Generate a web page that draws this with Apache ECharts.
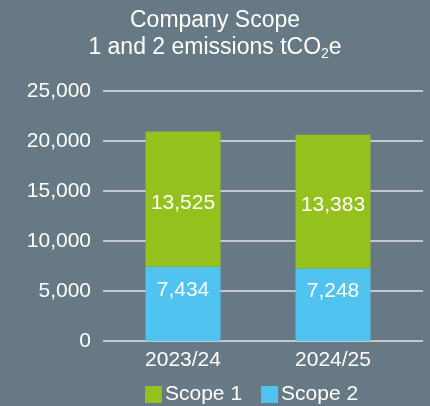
<!DOCTYPE html>
<html>
<head>
<meta charset="utf-8">
<script src="https://cdn.jsdelivr.net/npm/echarts@6/dist/echarts.min.js"></script>
<style>
  html, body { margin: 0; padding: 0; background: #667985; }
  #chart { width: 430px; height: 406px; }
</style>
</head>
<body>
<div id="chart"></div>
<script>
var years = ['2023/24', '2024/25'];
var scope1 = [13525, 13383];
var scope2 = [7434, 7248];
var yTicks = [0, 5000, 10000, 15000, 20000, 25000];

var font = '"Liberation Sans", Arial, sans-serif';
var myEcharts = echarts.init(document.getElementById('chart'));

function fmt(v) {
    return v.toLocaleString('en-US');
}

var option = {
    backgroundColor: '#667985',
    textStyle: { fontFamily: font },
    title: {
        text: 'Company Scope\n1 and 2 emissions tCO{sub|2}e',
        left: 'center',
        top: 2,
        textStyle: {
            color: '#fff', fontSize: 23, fontWeight: 'normal', lineHeight: 27, fontFamily: font,
            rich: {
                sub: { fontSize: 14, color: '#fff', fontFamily: font, verticalAlign: 'bottom', lineHeight: 14, padding: [13, 0, 0, 0] }
            }
        }
    },
    legend: {
        top: 384,
        left: 145,
        padding: 0,
        itemWidth: 17,
        itemHeight: 17,
        itemGap: 19,
        icon: 'rect',
        textStyle: { color: '#fff', fontSize: 21, fontFamily: font, padding: [0, 0, 0, -2] },
        data: ['Scope 1', 'Scope 2']
    },
    grid: [
        { left: 103, right: 7, top: 91, bottom: 65 },
        { left: 108, width: 300, top: 91, bottom: 65 }
    ],
    xAxis: [
        { type: 'category', gridIndex: 0, data: years, show: false },
        {
            type: 'category', gridIndex: 1, data: years,
            axisLine: { show: false },
            axisTick: { show: false },
            axisLabel: { color: '#fff', fontSize: 21, margin: 9, fontFamily: font }
        }
    ],
    yAxis: [
        {
            type: 'value', gridIndex: 0, min: yTicks[0], max: yTicks[yTicks.length - 1], interval: 5000,
            axisLine: { show: false },
            axisTick: { show: false },
            axisLabel: { color: '#fff', fontSize: 21, margin: 12, fontFamily: font, formatter: fmt },
            splitLine: { lineStyle: { color: '#c4c9cd', width: 2 } }
        },
        {
            type: 'value', gridIndex: 1, min: yTicks[0], max: yTicks[yTicks.length - 1], interval: 5000,
            show: false, splitLine: { show: false }
        }
    ],
    series: [
        {
            name: 'Scope 2', type: 'bar', stack: 'total', xAxisIndex: 1, yAxisIndex: 1,
            data: scope2, barWidth: 75, itemStyle: { color: '#50c3f0' },
            label: { show: true, color: '#fff', fontSize: 21, fontFamily: font, offset: [0, -14], formatter: function (p) { return fmt(p.value); } }
        },
        {
            name: 'Scope 1', type: 'bar', stack: 'total', xAxisIndex: 1, yAxisIndex: 1,
            data: scope1, barWidth: 75, itemStyle: { color: '#95c11f' },
            label: { show: true, color: '#fff', fontSize: 21, fontFamily: font, offset: [0, 4], formatter: function (p) { return fmt(p.value); } }
        }
    ]
};
myEcharts.setOption(option);
</script>
</body>
</html>
